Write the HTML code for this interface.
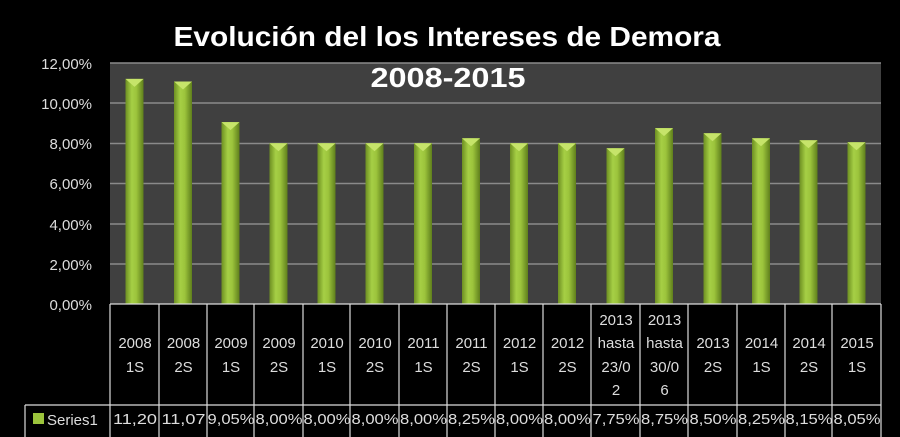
<!DOCTYPE html>
<html><head><meta charset="utf-8"><style>
html,body{margin:0;padding:0;background:#000;}
svg{display:block;}
</style></head><body>
<svg width="900" height="437" viewBox="0 0 900 437" xmlns="http://www.w3.org/2000/svg" font-family="Liberation Sans, sans-serif">
<defs>
<linearGradient id="bg" x1="0" x2="1" y1="0" y2="0">
<stop offset="0" stop-color="#6d8f22"/>
<stop offset="0.35" stop-color="#a6cf45"/>
<stop offset="0.6" stop-color="#9cc43c"/>
<stop offset="1" stop-color="#5f7f1c"/>
</linearGradient>
<g id="cap"><polygon points="0,0 18,0 9,8" fill="#c6e46a"/></g>
</defs>
<rect x="0" y="0" width="900" height="437" fill="#000"/>
<rect x="110" y="63" width="771" height="241" fill="#404040"/>
<g stroke="#8a8a8a" stroke-width="1.5">
<line x1="110" x2="881" y1="63" y2="63"/>
<line x1="110" x2="881" y1="103" y2="103"/>
<line x1="110" x2="881" y1="143.5" y2="143.5"/>
<line x1="110" x2="881" y1="183.5" y2="183.5"/>
<line x1="110" x2="881" y1="224" y2="224"/>
<line x1="110" x2="881" y1="264" y2="264"/>
</g>
<g fill="url(#bg)">
<rect x="125.5" y="78.9" width="18" height="225.1"/>
<rect x="174" y="81.5" width="18" height="222.5"/>
<rect x="221.5" y="122.1" width="18" height="181.9"/>
<rect x="269.5" y="143.2" width="18" height="160.8"/>
<rect x="317.5" y="143.2" width="18" height="160.8"/>
<rect x="365.5" y="143.2" width="18" height="160.8"/>
<rect x="414" y="143.2" width="18" height="160.8"/>
<rect x="462" y="138.2" width="18" height="165.8"/>
<rect x="510" y="143.2" width="18" height="160.8"/>
<rect x="558" y="143.2" width="18" height="160.8"/>
<rect x="606.5" y="148.2" width="18" height="155.8"/>
<rect x="655" y="128.1" width="18" height="175.9"/>
<rect x="703.5" y="133.2" width="18" height="170.8"/>
<rect x="752" y="138.2" width="18" height="165.8"/>
<rect x="799.5" y="140.2" width="18" height="163.8"/>
<rect x="847.5" y="142.2" width="18" height="161.8"/>
</g>
<use href="#cap" x="125.5" y="78.9"/>
<use href="#cap" x="174" y="81.5"/>
<use href="#cap" x="221.5" y="122.1"/>
<use href="#cap" x="269.5" y="143.2"/>
<use href="#cap" x="317.5" y="143.2"/>
<use href="#cap" x="365.5" y="143.2"/>
<use href="#cap" x="414" y="143.2"/>
<use href="#cap" x="462" y="138.2"/>
<use href="#cap" x="510" y="143.2"/>
<use href="#cap" x="558" y="143.2"/>
<use href="#cap" x="606.5" y="148.2"/>
<use href="#cap" x="655" y="128.1"/>
<use href="#cap" x="703.5" y="133.2"/>
<use href="#cap" x="752" y="138.2"/>
<use href="#cap" x="799.5" y="140.2"/>
<use href="#cap" x="847.5" y="142.2"/>
<text x="447" y="46" font-size="28" font-weight="bold" fill="#fff" text-anchor="middle" textLength="547" lengthAdjust="spacingAndGlyphs">Evolución del los Intereses de Demora</text>
<text x="448" y="87" font-size="28" font-weight="bold" fill="#fff" text-anchor="middle" textLength="155" lengthAdjust="spacingAndGlyphs">2008-2015</text>
<g font-size="15" fill="#ddd" text-anchor="end">
<text x="92" y="69">12,00%</text>
<text x="92" y="109">10,00%</text>
<text x="92" y="149">8,00%</text>
<text x="92" y="189">6,00%</text>
<text x="92" y="230">4,00%</text>
<text x="92" y="270">2,00%</text>
<text x="92" y="310">0,00%</text>
</g>
<g stroke="#ddd" stroke-width="1.2">
<line x1="110" x2="110" y1="304" y2="437"/>
<line x1="159" x2="159" y1="304" y2="437"/>
<line x1="207" x2="207" y1="304" y2="437"/>
<line x1="254" x2="254" y1="304" y2="437"/>
<line x1="303" x2="303" y1="304" y2="437"/>
<line x1="350" x2="350" y1="304" y2="437"/>
<line x1="399" x2="399" y1="304" y2="437"/>
<line x1="447" x2="447" y1="304" y2="437"/>
<line x1="495" x2="495" y1="304" y2="437"/>
<line x1="543" x2="543" y1="304" y2="437"/>
<line x1="591" x2="591" y1="304" y2="437"/>
<line x1="640" x2="640" y1="304" y2="437"/>
<line x1="688" x2="688" y1="304" y2="437"/>
<line x1="737" x2="737" y1="304" y2="437"/>
<line x1="785" x2="785" y1="304" y2="437"/>
<line x1="832" x2="832" y1="304" y2="437"/>
<line x1="881" x2="881" y1="304" y2="437"/>
<line x1="110" x2="881" y1="304" y2="304"/>
<line x1="25" x2="881" y1="405" y2="405"/>
<line x1="25" x2="25" y1="405" y2="437"/>
</g>
<g font-size="15" fill="#ddd" text-anchor="middle">
<text x="135" y="348">2008</text><text x="135" y="372">1S</text>
<text x="183.5" y="348">2008</text><text x="183.5" y="372">2S</text>
<text x="231" y="348">2009</text><text x="231" y="372">1S</text>
<text x="279" y="348">2009</text><text x="279" y="372">2S</text>
<text x="327" y="348">2010</text><text x="327" y="372">1S</text>
<text x="375" y="348">2010</text><text x="375" y="372">2S</text>
<text x="423.5" y="348">2011</text><text x="423.5" y="372">1S</text>
<text x="471.5" y="348">2011</text><text x="471.5" y="372">2S</text>
<text x="519.5" y="348">2012</text><text x="519.5" y="372">1S</text>
<text x="567.5" y="348">2012</text><text x="567.5" y="372">2S</text>
<text x="616" y="325">2013</text><text x="616" y="348">hasta</text><text x="616" y="372">23/0</text><text x="616" y="395">2</text>
<text x="664.5" y="325">2013</text><text x="664.5" y="348">hasta</text><text x="664.5" y="372">30/0</text><text x="664.5" y="395">6</text>
<text x="713" y="348">2013</text><text x="713" y="372">2S</text>
<text x="761.5" y="348">2014</text><text x="761.5" y="372">1S</text>
<text x="809" y="348">2014</text><text x="809" y="372">2S</text>
<text x="857" y="348">2015</text><text x="857" y="372">1S</text>
</g>
<g font-size="15" fill="#ddd" text-anchor="middle" lengthAdjust="spacingAndGlyphs">
<text x="135" y="424" textLength="44" lengthAdjust="spacingAndGlyphs">11,20</text>
<text x="183.5" y="424" textLength="44" lengthAdjust="spacingAndGlyphs">11,07</text>
<text x="231" y="424" textLength="47" lengthAdjust="spacingAndGlyphs">9,05%</text>
<text x="279" y="424" textLength="47" lengthAdjust="spacingAndGlyphs">8,00%</text>
<text x="327" y="424" textLength="47" lengthAdjust="spacingAndGlyphs">8,00%</text>
<text x="375" y="424" textLength="47" lengthAdjust="spacingAndGlyphs">8,00%</text>
<text x="423.5" y="424" textLength="47" lengthAdjust="spacingAndGlyphs">8,00%</text>
<text x="471.5" y="424" textLength="47" lengthAdjust="spacingAndGlyphs">8,25%</text>
<text x="519.5" y="424" textLength="47" lengthAdjust="spacingAndGlyphs">8,00%</text>
<text x="567.5" y="424" textLength="47" lengthAdjust="spacingAndGlyphs">8,00%</text>
<text x="616" y="424" textLength="47" lengthAdjust="spacingAndGlyphs">7,75%</text>
<text x="664.5" y="424" textLength="47" lengthAdjust="spacingAndGlyphs">8,75%</text>
<text x="713" y="424" textLength="47" lengthAdjust="spacingAndGlyphs">8,50%</text>
<text x="761.5" y="424" textLength="47" lengthAdjust="spacingAndGlyphs">8,25%</text>
<text x="809" y="424" textLength="47" lengthAdjust="spacingAndGlyphs">8,15%</text>
<text x="857" y="424" textLength="47" lengthAdjust="spacingAndGlyphs">8,05%</text>
</g>
<rect x="33" y="413" width="11" height="11" fill="#9cc43c"/>
<text x="47" y="425" font-size="15" fill="#ddd">Series1</text>
</svg>
</body></html>
